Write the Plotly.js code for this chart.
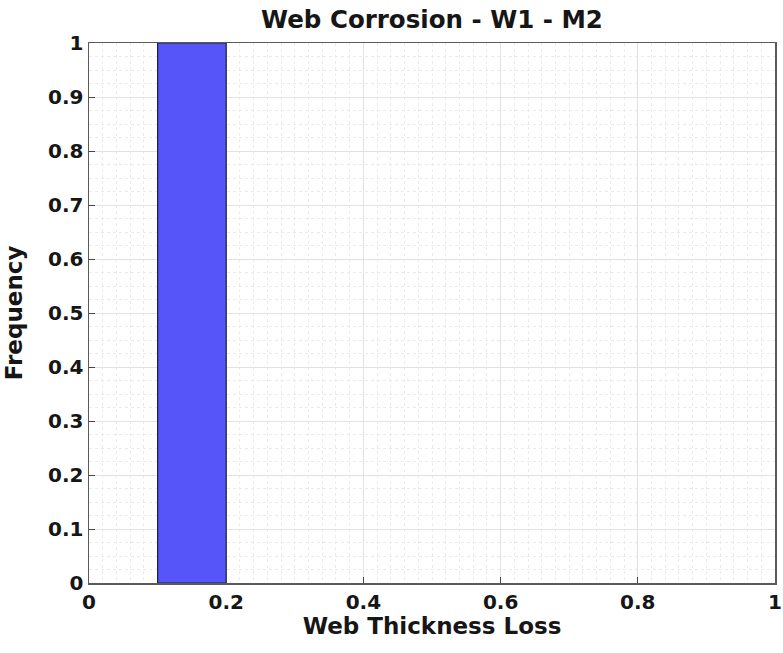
<!DOCTYPE html>
<html><head><meta charset="utf-8">
<script src="https://cdn.plot.ly/plotly-3.0.1.min.js"></script>
<style>body{margin:0;background:#fff}#chart{width:783px;height:653px}</style>
</head><body><div id="chart"></div>
<script>
const binLeft = [0.1];
const binRight = [0.2];
const frequency = [1];
const xTickVals = [0, 0.2, 0.4, 0.6, 0.8, 1];
const xTickText = ['0', '0.2', '0.4', '0.6', '0.8', '1'];
const yTickVals = [0, 0.1, 0.2, 0.3, 0.4, 0.5, 0.6, 0.7, 0.8, 0.9, 1];
const yTickText = ['0', '0.1', '0.2', '0.3', '0.4', '0.5', '0.6', '0.7', '0.8', '0.9', '1'];

const centers = binLeft.map((l, i) => (l + binRight[i]) / 2);
const widths = binLeft.map((l, i) => binRight[i] - l);

const F = 'DejaVu Sans, sans-serif';
const TXT = '#161616';
const trace = {
  type: 'bar', x: centers, y: frequency, width: widths,
  marker: {color: '#5555fa', line: {color: '#202030', width: 1.2}},
  hoverinfo: 'none'
};
const layout = {
  width: 783, height: 653,
  margin: {l: 89, r: 8, t: 43, b: 70},
  paper_bgcolor: '#fff', plot_bgcolor: '#fff',
  showlegend: false,
  title: {text: 'Web Corrosion - W1 - M2', xref: 'paper', x: 0.5, xanchor: 'center', yref: 'container', y: 0.97, yanchor: 'middle',
    font: {family: F, size: 24.5, weight: 'bold', color: TXT}},
  xaxis: {
    range: [0, 1], tickvals: xTickVals, ticktext: xTickText,
    ticks: 'inside', ticklen: 6, tickcolor: '#444', tickfont: {family: F, size: 20, weight: 'bold', color: TXT},
    showline: true, linecolor: '#5a5a5a', linewidth: 1.5, mirror: true,
    showgrid: true, gridcolor: '#e2e2e2', gridwidth: 1, zeroline: false,
    minor: {dtick: 0.02, showgrid: true, gridcolor: '#ebebeb', griddash: 'dot', gridwidth: 1},
    title: {text: 'Web Thickness Loss', font: {family: F, size: 23, weight: 'bold', color: TXT}, standoff: 4}
  },
  yaxis: {
    range: [0, 1], tickvals: yTickVals, ticktext: yTickText,
    ticks: 'inside', ticklen: 6, tickcolor: '#444', tickfont: {family: F, size: 20, weight: 'bold', color: TXT},
    showline: true, linecolor: '#5a5a5a', linewidth: 1.5, mirror: true,
    showgrid: true, gridcolor: '#e2e2e2', gridwidth: 1, zeroline: false,
    minor: {dtick: 0.025, showgrid: true, gridcolor: '#ebebeb', griddash: 'dot', gridwidth: 1}
  },
  annotations: [{
    text: 'Frequency', textangle: -90, showarrow: false,
    xref: 'paper', x: -0.109, xanchor: 'center', yref: 'paper', y: 0.5, yanchor: 'middle',
    font: {family: F, size: 23, weight: 'bold', color: TXT}
  }],
  bargap: 0
};
Plotly.newPlot('chart', [trace], layout, {displayModeBar: false, staticPlot: true});
</script></body></html>
